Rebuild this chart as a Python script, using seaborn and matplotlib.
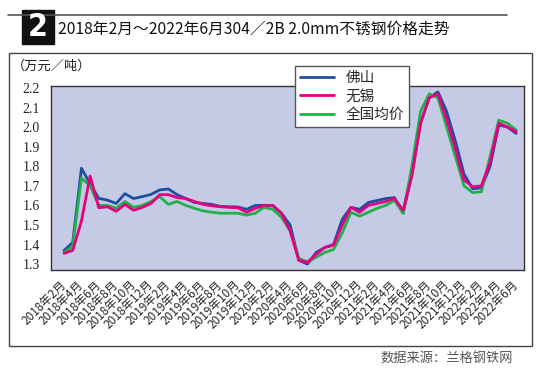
import matplotlib
matplotlib.use("Agg")
import matplotlib.pyplot as plt
import seaborn as sns
import pandas as pd
import numpy as np
from matplotlib.patches import Rectangle
from matplotlib.lines import Line2D

# monthly prices, 2018-02 .. 2022-06 (万元/吨)
months = [f"{y}年{m}月" for y in range(2018, 2023) for m in range(1, 13)][1:54]

foshan = [1.37, 1.41, 1.79, 1.71, 1.636, 1.627, 1.61, 1.66, 1.635, 1.645,
          1.656, 1.679, 1.684, 1.655, 1.635, 1.615, 1.61, 1.605, 1.595, 1.593,
          1.592, 1.58, 1.60, 1.60, 1.60, 1.56, 1.50, 1.32, 1.30, 1.36,
          1.385, 1.40, 1.53, 1.59, 1.58, 1.615, 1.625, 1.635, 1.64, 1.56,
          1.76, 2.02, 2.15, 2.18, 2.08, 1.93, 1.76, 1.685, 1.69, 1.80,
          2.01, 2.00, 1.968]
wuxi = [1.355, 1.37, 1.52, 1.75, 1.588, 1.593, 1.57, 1.605, 1.575, 1.59,
        1.61, 1.655, 1.655, 1.64, 1.635, 1.62, 1.605, 1.598, 1.593, 1.59,
        1.588, 1.565, 1.585, 1.60, 1.60, 1.56, 1.47, 1.32, 1.31, 1.35,
        1.385, 1.397, 1.50, 1.59, 1.565, 1.60, 1.61, 1.62, 1.635, 1.575,
        1.75, 2.02, 2.15, 2.17, 2.04, 1.89, 1.73, 1.695, 1.70, 1.82,
        2.02, 2.00, 1.977]
national = [1.36, 1.39, 1.74, 1.70, 1.60, 1.60, 1.586, 1.62, 1.59, 1.60,
            1.62, 1.645, 1.605, 1.62, 1.60, 1.585, 1.572, 1.565, 1.56, 1.56,
            1.56, 1.55, 1.56, 1.59, 1.58, 1.54, 1.47, 1.33, 1.31, 1.335,
            1.36, 1.375, 1.46, 1.565, 1.545, 1.565, 1.585, 1.60, 1.625, 1.56,
            1.80, 2.08, 2.17, 2.15, 2.00, 1.85, 1.70, 1.665, 1.67, 1.85,
            2.035, 2.02, 1.985]

series_names = ["佛山", "无锡", "全国均价"]
colors = {"佛山": "#1c4f9f", "无锡": "#e5007f", "全国均价": "#22b04b"}

df = pd.concat([
    pd.DataFrame({"idx": range(len(months)), "price": vals, "city": name})
    for name, vals in zip(series_names, [foshan, wuxi, national])
])

sns.set_style("white")
plt.rcParams["font.family"] = ["Noto Sans CJK SC", "DejaVu Sans"]

fig = plt.figure(figsize=(5.48, 3.84), dpi=100)
ax = fig.add_axes([51 / 548, 1 - 270 / 384, 473 / 548, 184 / 384])

# pink drawn last so it sits on top, like the reference
sns.lineplot(data=df, x="idx", y="price", hue="city", hue_order=["佛山", "全国均价", "无锡"],
             palette=colors, linewidth=2.0, ax=ax, legend=False)

ax.set_facecolor("#c6cbe5")
ax.set_xlim(-1.5, 52.9)
ax.set_ylim(1.27, 2.21)
ax.set_xlabel("")
ax.set_ylabel("")
for s in ax.spines.values():
    s.set_color("#333333")
    s.set_linewidth(1.0)

yt = np.arange(1.3, 2.21, 0.1)
ax.set_yticks(yt)
ax.set_yticklabels([f"{v:.1f}" for v in yt], fontfamily="Liberation Serif", fontsize=10)
ax.tick_params(axis="y", length=0, pad=8)

xt = list(range(0, len(months), 2))
ax.set_xticks(xt)
ax.set_xticklabels([months[i] for i in xt], rotation=45, ha="right", va="center",
                   rotation_mode="anchor", fontsize=8.5)
ax.tick_params(axis="x", length=0, pad=9)

handles = [Line2D([], [], color=colors[n], linewidth=2.0) for n in series_names]
leg = fig.legend(handles, series_names, loc="upper left",
                 bbox_to_anchor=(295 / 548, 1 - 66 / 384), frameon=True, fancybox=False,
                 fontsize=10.5, handlelength=2.3, labelspacing=0.3, borderpad=0.35,
                 handletextpad=0.8, borderaxespad=0)
leg.get_frame().set_edgecolor("#555555")
leg.get_frame().set_linewidth(1.0)
leg.get_frame().set_facecolor("white")
leg.get_frame().set_alpha(1)

# outer frame
fig.add_artist(Rectangle((9 / 548, 1 - 346 / 384), 523 / 548, 293 / 384,
                         transform=fig.transFigure, fill=False, edgecolor="#444444", linewidth=1.0))
# header line and number box
fig.add_artist(Line2D([8 / 548, 507 / 548], [1 - 15 / 384, 1 - 15 / 384],
                      transform=fig.transFigure, color="#555555", linewidth=1.2))
fig.add_artist(Rectangle((22 / 548, 1 - 44 / 384), 32 / 548, 34 / 384,
                         transform=fig.transFigure, color="#111111"))
fig.text(38 / 548, 1 - 27 / 384, "2", color="white", fontsize=23, fontweight="bold",
         ha="center", va="center", fontfamily="DejaVu Sans", fontstretch="condensed")
fig.text(58 / 548, 1 - 29 / 384, "2018年2月～2022年6月304／2B 2.0mm不锈钢价格走势",
         fontsize=11.3, ha="left", va="center", color="#111111")
fig.text(12 / 548, 1 - 66 / 384, "（万元／吨）", fontsize=9.5, ha="left", va="center",
         color="#222222")
fig.text(380 / 548, 1 - 359 / 384, "数据来源：兰格钢铁网", fontsize=9.5, ha="left", va="center",
         color="#555555")

fig.savefig("out.png", dpi=100)
